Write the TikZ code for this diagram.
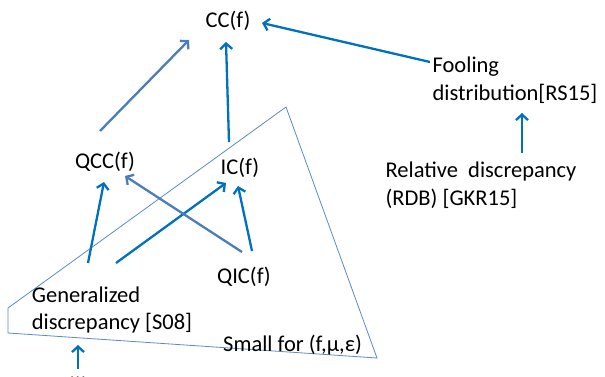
\documentclass[tikz,border=0pt]{standalone}
\usepackage{fontspec}
\setmainfont{Carlito}
\usetikzlibrary{arrows.meta, positioning}

\definecolor{mainblue}{HTML}{0070C0}
\definecolor{steelblue}{HTML}{4A7EBB}
\definecolor{zoneblue}{HTML}{5B8AC6}

\begin{document}
\begin{tikzpicture}[x=1pt, y=-1pt,
  label/.style={inner sep=0pt, align=left, font=\fontsize{22.5}{27.5}\selectfont},
  arrow/.style={line width=2.3pt, draw=mainblue, -{Straight Barb[length=5.5pt,width=12pt]}},
  grayarrow/.style={arrow, draw=steelblue},
  zone/.style={draw=zoneblue, line width=0.8pt}]

  \useasboundingbox (0,0) rectangle (605,377);

  % Region
  \draw [zone] (8,308) -- (286,107) -- (377,358) -- (8,333) -- cycle;

  % Nodes
  \node (cc) [label] at (228,21) {CC(f)};
  \node (fooling) [label] at (515,80) {Fooling\\distribution[RS15]};
  \node (rdb) [label] at (481,185) {Relative~ discrepancy\\(RDB) [GKR15]};
  \node (qcc) [label] at (105,162) {QCC(f)};
  \node (ic) [label] at (240,168) {IC(f)};
  \node (qic) [label] at (244,277) {QIC(f)};
  \node (gendisc) [label] at (112,310) {Generalized\\discrepancy [S08]};
  \node (small) [label, anchor=west] at (223,345) {Small for (f,μ,ε)};
  \node (dots) [label] at (78,378) {\dots};

  % Arrows
  \draw [arrow] ([shift={(-85,-18)}]fooling.center) -- ([shift={(34,2)}]cc.center);
  \draw [arrow] ([shift={(41,-32)}]rdb.center) -- ([shift={(7,33)}]fooling.center);
  \draw [grayarrow] ([shift={(-5,-31)}]qcc.center) -- ([shift={(-39,19)}]cc.center);
  \draw [arrow] ([shift={(-11,-26)}]ic.center) -- ([shift={(-2,21)}]cc.center);
  \draw [arrow] ([shift={(-24,-47)}]gendisc.center) -- ([shift={(-1,20)}]qcc.center);
  \draw [arrow] ([shift={(4,-47)}]gendisc.center) -- ([shift={(-14,15)}]ic.center);
  \draw [grayarrow] ([shift={(-2,-25)}]qic.center) -- ([shift={(20,14)}]qcc.center);
  \draw [arrow] ([shift={(8,-26)}]qic.center) -- ([shift={(-2,18)}]ic.center);
  \draw [arrow] ([shift={(0,-9)}]dots.center) -- ([shift={(-34,35)}]gendisc.center);

\end{tikzpicture}
\end{document}
